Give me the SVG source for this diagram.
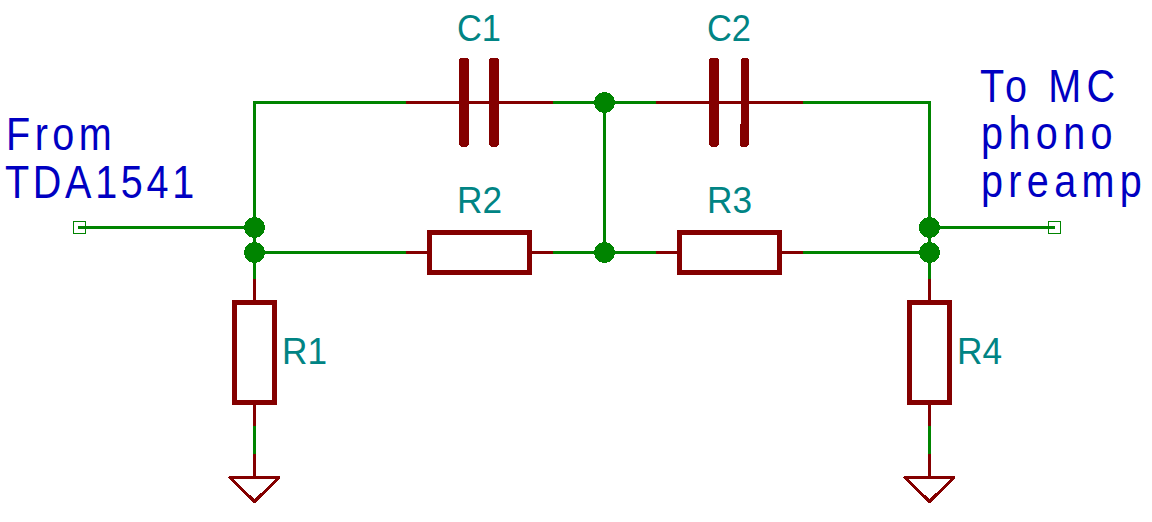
<svg xmlns="http://www.w3.org/2000/svg" width="1152" height="522" viewBox="0 0 1152 522">
<style>
*{shape-rendering:crispEdges}
.w{fill:none;stroke:#008400;stroke-width:3}
.p{fill:none;stroke:#840000;stroke-width:3}
.b{fill:#fff;stroke:#840000;stroke-width:4.5}
.plate{fill:#840000}
.j{fill:#008400}
.pin{fill:none;stroke:#008400;stroke-width:1.4}
.g{fill:#fff;stroke:#840000;stroke-width:3;stroke-linejoin:round}
text{font-family:"Liberation Sans","DejaVu Sans",sans-serif}
.ref{fill:#008484;font-size:37px}
.note{fill:#0000c2;font-size:46px}
</style>
<rect width="1152" height="522" fill="#fff"/>
<g id="connectors">
<path class="w" d="M406 102.5H254.5V252.5M553 102.5H656M803 102.5H929.5V252.5M604.5 102.5V252.5M78 227.5H254.5M929.5 227.5H1055M254.5 252.5H406M553 252.5H656M803 252.5H929.5M254.5 252.5V279M929.5 252.5V279M254.5 426V454M929.5 426V454"/>
</g>
<g id="J1"><circle class="j" cx="254.5" cy="227.5" r="10.5"/></g>
<g id="J2"><circle class="j" cx="254.5" cy="252.5" r="10.5"/></g>
<g id="J3"><circle class="j" cx="604.5" cy="102.5" r="10.5"/></g>
<g id="J4"><circle class="j" cx="604.5" cy="252.5" r="10.5"/></g>
<g id="J5"><circle class="j" cx="929.5" cy="227.5" r="10.5"/></g>
<g id="J6"><circle class="j" cx="929.5" cy="252.5" r="10.5"/></g>
<g id="P1"><rect class="pin" x="73.7" y="221.7" width="11.6" height="11.6"/></g>
<g id="P2"><rect class="pin" x="1048.7" y="221.7" width="11.6" height="11.6"/></g>
<g id="C1">
<path class="p" d="M406 102.5H553"/>
<rect class="plate" x="459" y="57.5" width="10" height="89.5" rx="4"/>
<rect class="plate" x="489" y="57.5" width="10" height="89.5" rx="4"/>
<text class="ref" x="457" y="41" textLength="44" lengthAdjust="spacingAndGlyphs">C1</text>
</g>
<g id="C2">
<path class="p" d="M656 102.5H803"/>
<rect class="plate" x="709" y="57.5" width="10" height="89.5" rx="4"/>
<path class="plate" d="M745 57.5Q749 57.5 749 61.5V143Q749 147 745 147H743.5Q739.5 147 739.5 143V124H741V61.5Q741 57.5 745 57.5Z"/>
<text class="ref" x="707" y="41" textLength="44" lengthAdjust="spacingAndGlyphs">C2</text>
</g>
<g id="R2">
<path class="p" d="M406 252.5H553"/>
<rect class="b" x="429.5" y="232.5" width="100" height="40"/>
<text class="ref" x="457" y="213" textLength="45" lengthAdjust="spacingAndGlyphs">R2</text>
</g>
<g id="R3">
<path class="p" d="M656 252.5H803"/>
<rect class="b" x="679.5" y="232.5" width="100" height="40"/>
<text class="ref" x="707" y="213" textLength="45" lengthAdjust="spacingAndGlyphs">R3</text>
</g>
<g id="R1">
<path class="p" d="M254.5 279V426"/>
<rect class="b" x="234.5" y="302.5" width="40" height="100"/>
<text class="ref" x="282" y="364" textLength="45" lengthAdjust="spacingAndGlyphs">R1</text>
</g>
<g id="R4">
<path class="p" d="M929.5 279V426"/>
<rect class="b" x="909.5" y="302.5" width="40" height="100"/>
<text class="ref" x="957" y="364" textLength="45" lengthAdjust="spacingAndGlyphs">R4</text>
</g>
<g id="GND1">
<path class="p" d="M254.5 454V477"/>
<path class="g" d="M230 477.5H279L254.5 501.5Z"/>
</g>
<g id="GND2">
<path class="p" d="M929.5 454V477"/>
<path class="g" d="M905 477.5H954L929.5 501.5Z"/>
</g>
<g id="note-from">
<text class="note" transform="translate(6 150) scale(.86 1)" textLength="123" lengthAdjust="spacing">From</text>
<text class="note" transform="translate(5 198) scale(.86 1)" textLength="220" lengthAdjust="spacing">TDA1541</text>
</g>
<g id="note-to">
<text class="note" transform="translate(980 102) scale(.86 1)" textLength="157" lengthAdjust="spacing">To MC</text>
<text class="note" transform="translate(981 149) scale(.86 1)" textLength="153" lengthAdjust="spacing">phono</text>
<text class="note" transform="translate(981 197) scale(.86 1)" textLength="187" lengthAdjust="spacing">preamp</text>
</g>
</svg>
